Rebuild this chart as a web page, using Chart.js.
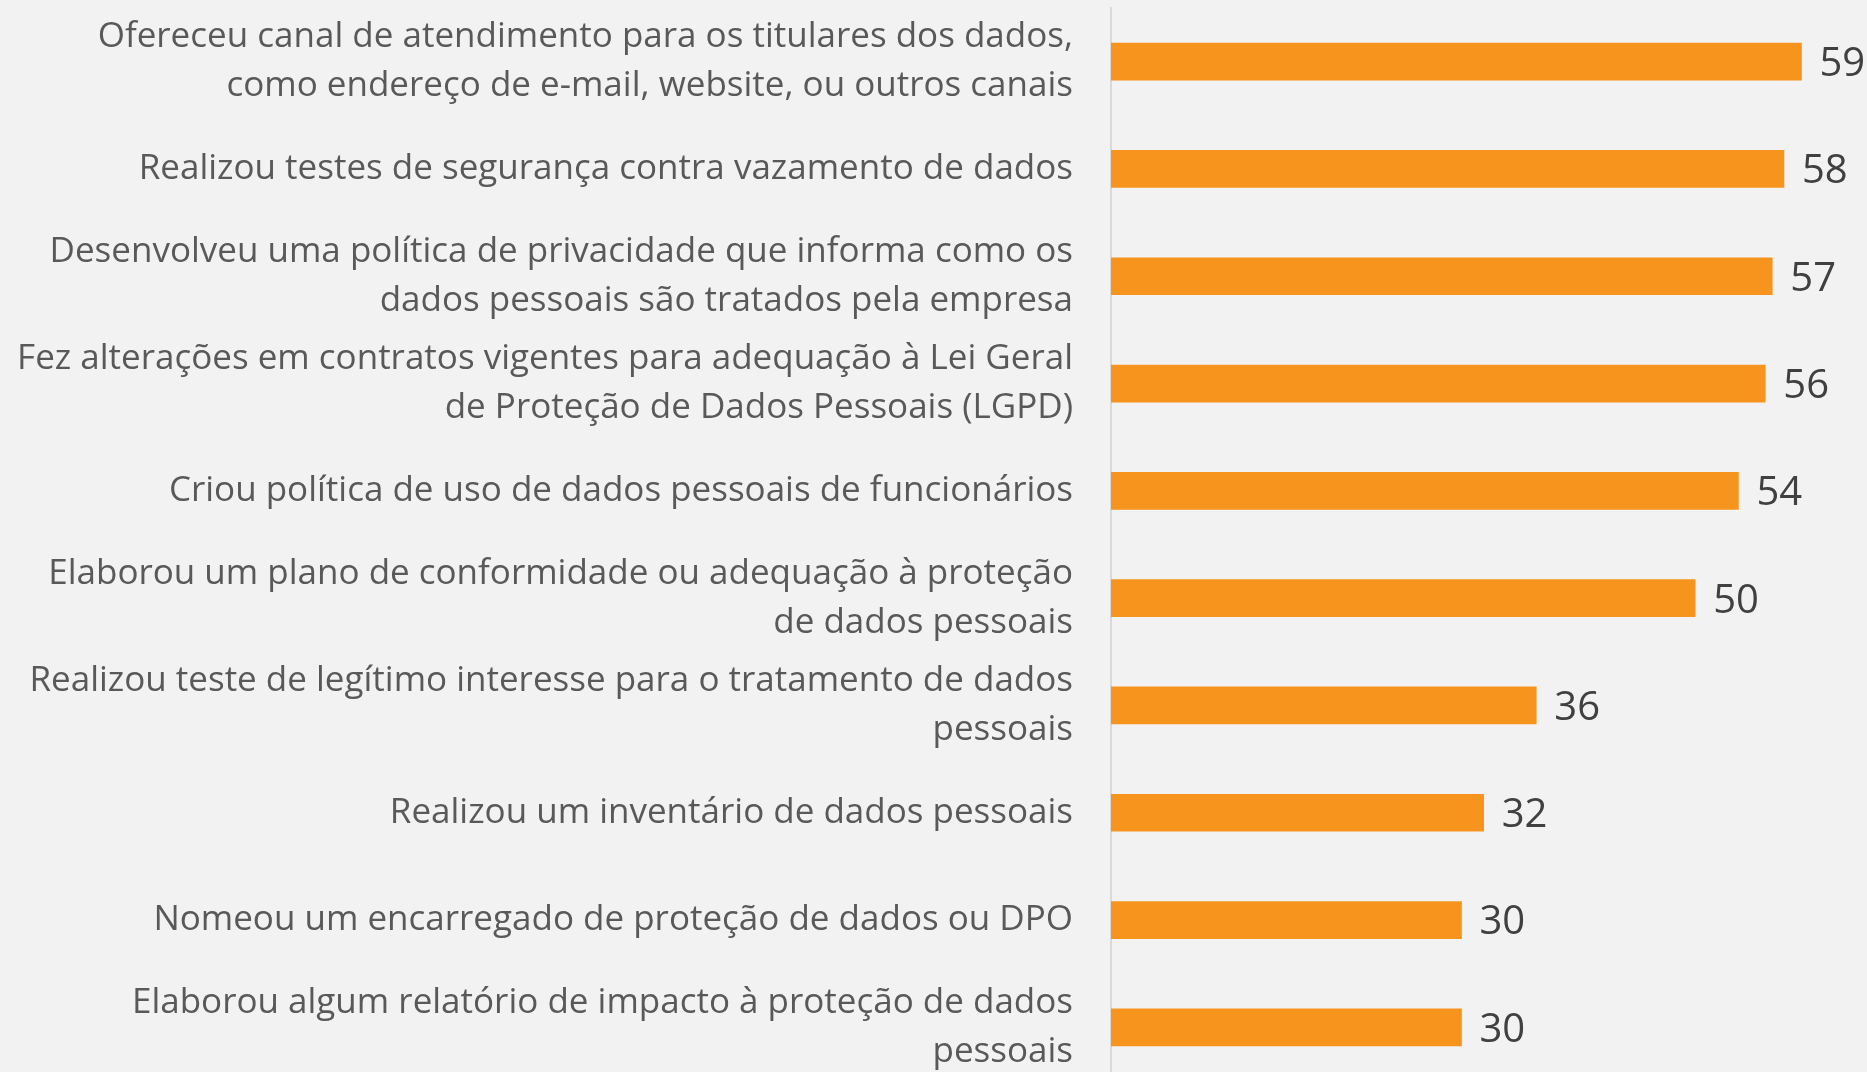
<!DOCTYPE html>
<html>
<head>
<meta charset="utf-8">
<script src="https://cdn.jsdelivr.net/npm/chart.js@4.4.0/dist/chart.umd.min.js"></script>
<style>
  html, body { margin: 0; padding: 0; background: #f2f2f2; overflow: hidden; }
  #wrap { width: 1867px; height: 1081px; }
</style>
</head>
<body>
<div id="wrap"><canvas id="chart"></canvas></div>
<script>
// categories and values (bar lengths; labels show them rounded)
const categories = [
  ["Ofereceu canal de atendimento para os titulares dos dados,", "como endereço de e-mail, website, ou outros canais"],
  "Realizou testes de segurança contra vazamento de dados",
  ["Desenvolveu uma política de privacidade que informa como os", "dados pessoais são tratados pela empresa"],
  ["Fez alterações em contratos vigentes para adequação à Lei Geral", "de Proteção de Dados Pessoais (LGPD)"],
  "Criou política de uso de dados pessoais de funcionários",
  ["Elaborou um plano de conformidade ou adequação à proteção", "de dados pessoais"],
  ["Realizou teste de legítimo interesse para o tratamento de dados", "pessoais"],
  "Realizou um inventário de dados pessoais",
  "Nomeou um encarregado de proteção de dados ou DPO",
  ["Elaborou algum relatório de impacto à proteção de dados", "pessoais"]
];
const values = [59.1, 57.6, 56.6, 56.0, 53.7, 50.0, 36.4, 31.9, 30.0, 30.0];

// draws the number at the end of each bar
const valueLabels = {
  id: "valueLabels",
  afterDatasetsDraw(chart) {
    const ctx = chart.ctx;
    const meta = chart.getDatasetMeta(0);
    ctx.save();
    ctx.font = '40px "Open Sans"';
    ctx.fillStyle = "#404040";
    ctx.textBaseline = "middle";
    meta.data.forEach((bar, i) => {
      ctx.fillText(Math.round(values[i]), bar.x + 18, bar.y + 3);
    });
    ctx.restore();
  }
};

new Chart(document.getElementById("chart"), {
  type: "bar",
  data: {
    labels: categories,
    datasets: [{
      data: values,
      backgroundColor: "#f7941e",
      barThickness: 37
    }]
  },
  options: {
    indexAxis: "y",
    responsive: true,
    maintainAspectRatio: false,
    animation: false,
    layout: { padding: { top: 8, right: 55, left: 0, bottom: 0 } },
    plugins: {
      legend: { display: false },
      tooltip: { enabled: false }
    },
    scales: {
      x: {
        display: false,
        min: 0,
        max: 60
      },
      y: {
        afterFit: scale => {
          scale.width = 1111;
          scale.paddingTop = 0;
          scale.paddingBottom = 0;
        },
        grid: { display: false, drawTicks: false },
        border: { display: true, color: "#d9d9d9", width: 2 },
        ticks: {
          padding: 38,
          color: "#595959",
          font: { family: "Open Sans", size: 35, lineHeight: 1.4 }
        }
      }
    }
  },
  plugins: [valueLabels]
});
</script>
</body>
</html>
